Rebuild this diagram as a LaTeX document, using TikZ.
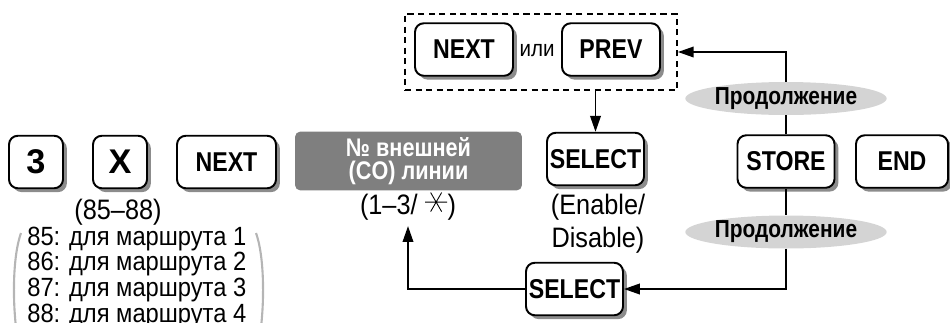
\documentclass[tikz,border=0pt]{standalone}
\usepackage{fontspec}
\setmainfont{Liberation Sans}
\newfontfamily\keyfont{Liberation Sans}[FakeStretch=0.85]
\newfontfamily\condfont{Liberation Sans}[FakeStretch=0.9]
\usetikzlibrary{arrows.meta,shadows,fit,shapes.geometric}

\begin{document}
\begin{tikzpicture}[x=0.02cm,y=-0.02cm,
  key/.style={draw,line width=1.1pt,fill=white,rounded corners=5pt,minimum height=1.05cm,inner sep=0pt,
    font=\keyfont\bfseries\fontsize{15.5}{16}\selectfont,
    drop shadow={shadow xshift=2.2pt,shadow yshift=-2.2pt,fill=keyShadow,opacity=1}},
  bigkey/.style={key,minimum width=1.08cm,font=\bfseries\fontsize{19.5}{20}\selectfont},
  oval/.style={ellipse,fill=ovalGray,minimum width=3.24cm,minimum height=0.66cm,inner sep=0pt,
    font=\keyfont\bfseries\fontsize{14}{14}\selectfont},
  txt/.style={font=\condfont\fontsize{16}{16}\selectfont},
  flow/.style={line width=1pt,-{Triangle[length=9pt,width=6pt]}}]
\definecolor{keyShadow}{HTML}{8C8C8C}
\definecolor{lineGray}{HTML}{7F7F7F}
\definecolor{ovalGray}{HTML}{D4D4D4}
\definecolor{parenGray}{HTML}{B5B5B5}
\useasboundingbox (0,0) rectangle (950,322);
% keys of the main row
\node[bigkey] (k3) at (36,162) {3};
\node[bigkey] (kx) at (120,162) {X};
\node[key,minimum width=1.98cm] (next) at (226.5,162) {NEXT};
\node[fill=lineGray,rounded corners=3pt,minimum width=4.54cm,minimum height=1.04cm,text=white,
  align=center,font=\keyfont\bfseries\fontsize{14.5}{13}\selectfont] (co) at (408.5,161) {№ внешней\\(CO) линии};
\node[txt] (corng) at (408,206) {(1–3/ \tikz[x=1cm,y=1cm,baseline=-0.24cm,line width=0.5pt]
  \draw (0:0.22) -- (180:0.22) (60:0.22) -- (240:0.22) (120:0.22) -- (300:0.22);)};
\node[key,minimum width=1.94cm] (sel) at (595.5,159) {SELECT};
\node[txt,align=center] (en) at (598,224) {(Enable/\\[3pt]Disable)};
\node[key,minimum width=1.94cm] (store) at (786,161.5) {STORE};
\node[key,minimum width=1.84cm] (end) at (902,161.5) {END};
% NEXT or PREV
\node[key,minimum width=1.96cm] (tnext) at (464,49.5) {NEXT};
\node[key,minimum width=1.96cm] (prev) at (611,49.5) {PREV};
\node[font=\condfont\fontsize{13}{13}\selectfont] (ili) at (537,51) {или};
\node[draw,dashed,dash pattern=on 3.5pt off 2.5pt,line width=1pt,inner sep=0pt,fit={(405,14) (677,90)}] (frame) {};
% loops
\node[oval] (cont1) at (786,98.5) {Продолжение};
\node[oval] (cont2) at (786,232) {Продолжение};
\node[key,minimum width=1.94cm] (sel2) at (574.5,289) {SELECT};
\draw[flow] (frame.south -| sel) -- (sel.north);
\draw[line width=1pt] (store) -- (cont1) (store) -- (cont2);
\draw[flow] (cont1) |- (frame.east);
\draw[flow] (cont2) |- (sel2.east);
\draw[flow] (sel2.west) -| (corng.south);
% codes
\node[txt,inner sep=0.5pt] (codes) at (118,212) {(85–88)};
\node[font=\condfont\fontsize{15}{13}\selectfont,align=left,anchor=base west,inner sep=0pt] (routes) at (27,322)
  {85: для маршрута 1\\86: для маршрута 2\\87: для маршрута 3\\88: для маршрута 4};
\draw[parenGray,line width=1.2pt] (21,233) .. controls (13,255) and (12,300) .. (17,335);
\draw[parenGray,line width=1.2pt] (256,233) .. controls (264,255) and (265,300) .. (260,335);
\end{tikzpicture}
\end{document}
